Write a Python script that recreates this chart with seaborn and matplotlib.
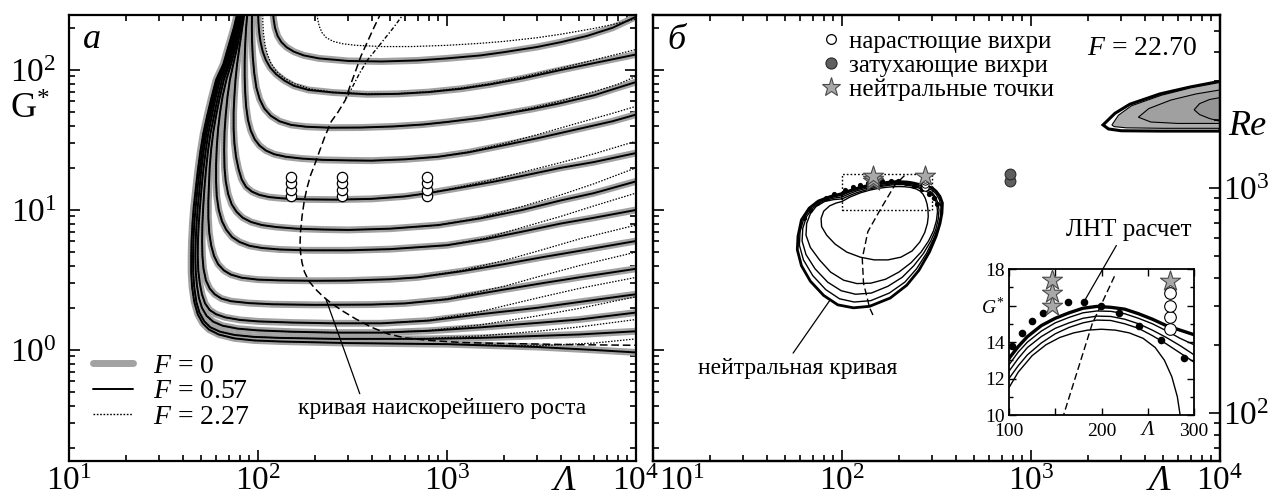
import itertools
import numpy as np
import pandas as pd
import matplotlib
matplotlib.use("Agg")
import matplotlib.pyplot as plt
from matplotlib.lines import Line2D
from matplotlib.ticker import (LogLocator, LogFormatterMathtext, NullFormatter,
                               FixedLocator, FixedFormatter, MultipleLocator, FuncFormatter)
import seaborn as sns

# ======================= DATA =======================
# Panel а : contours G*(Λ); F = 0.57 (black) – the F = 0 curves (grey) coincide with them
C1 = [(120, 260), (121, 230), (123, 200), (127, 175), (133, 158), (142, 145), (155, 135), (175, 127), (210, 121),
      (300, 116), (450, 115), (700, 117), (1000, 121), (1500, 127), (2000, 134), (3000, 146), (4000, 158),
      (5500, 175), (7500, 200), (10000, 240)]
C2 = [(100, 260), (100.5, 220), (101.5, 185), (103, 160), (106, 135), (110, 118), (116, 104), (125, 93), (138, 84),
      (155, 77), (185, 72), (250, 69), (380, 67), (550, 67.5), (800, 69.5), (1200, 73.5), (1700, 79), (2500, 87),
      (4000, 100), (6000, 112), (10000, 129)]
C3 = [(93, 260), (92.8, 200), (93, 160), (93.8, 125), (95.5, 95), (98, 75), (102, 62), (108, 53), (117, 47),
      (130, 43), (150, 40.5), (180, 39.3), (240, 38.7), (350, 38.8), (520, 39.5), (750, 40.8), (1000, 42.5),
      (1500, 45.5), (2000, 48.5), (2800, 52.5), (4000, 58), (6000, 66), (10000, 82)]
C4 = [(88, 260), (86.5, 200), (85.5, 150), (85, 115), (85, 90), (85.5, 70), (86.5, 55), (88.5, 44), (91.5, 37),
      (96, 32), (102, 28.8), (110, 26.6), (122, 25), (140, 24), (170, 23.3), (220, 22.8), (300, 22.6), (400, 22.5),
      (600, 23), (900, 24), (1300, 25.8), (2000, 29), (3000, 32.5), (5000, 38), (7500, 43), (10000, 48)]
C5 = [(85, 260), (82.5, 200), (80, 150), (77.5, 110), (76, 85), (75, 65), (74.3, 50), (74.3, 38), (75, 30),
      (76.5, 24), (79, 19.5), (82, 16.5), (86.5, 14.6), (93, 13.5), (102, 12.8), (115, 12.35), (135, 12.1),
      (180, 11.9), (260, 11.85), (400, 12), (600, 12.5), (800, 13.2), (1200, 14.5), (1800, 16), (2500, 17.5),
      (4000, 20), (6000, 22), (10000, 25.5)]
C6 = [(84, 260), (81, 200), (78, 150), (74, 110), (71, 85), (69, 65), (67.5, 48), (66.5, 36), (66.2, 27),
      (66.5, 20), (67.5, 16), (69.5, 13), (72.5, 11), (77, 9.7), (83, 8.8), (92, 8.2), (105, 7.8), (125, 7.55),
      (160, 7.35), (220, 7.25), (300, 7.2), (500, 7.35), (900, 7.8), (1500, 8.7), (2500, 10), (4000, 11.7),
      (6000, 13.2), (10000, 16)]
C7 = [(83, 260), (79.5, 200), (76.5, 150), (72, 110), (68, 85), (65, 65), (63, 50), (61.5, 38), (60.5, 28),
      (60, 21), (60, 16), (60.5, 12.5), (62, 10), (64.5, 8.3), (68, 7.2), (73, 6.4), (80, 5.9), (90, 5.55),
      (105, 5.35), (130, 5.22), (180, 5.15), (300, 5.15), (500, 5.25), (1000, 5.6), (1600, 6.2), (2500, 7.0),
      (4000, 8.0), (6000, 8.8), (10000, 10)]
C8 = [(82, 260), (78.5, 200), (75, 150), (70.5, 110), (66, 85), (62.5, 62), (60, 47), (58, 36), (56.5, 27),
      (55.5, 20), (55, 15), (54.6, 11.5), (54.6, 8.8), (55.2, 6.9), (56.5, 5.6), (58.5, 4.7), (61.5, 4.1),
      (66, 3.7), (72, 3.45), (82, 3.28), (100, 3.18), (130, 3.14), (200, 3.12), (300, 3.13), (500, 3.2),
      (700, 3.3), (1200, 3.65), (2000, 4.1), (3200, 4.6), (5000, 5.1), (10000, 6.0)]
C9 = [(81, 260), (77.5, 200), (74, 150), (69.5, 110), (64.5, 85), (61, 62), (58.5, 47), (56, 35), (54.3, 26),
      (53, 19), (52, 14), (51.3, 10.5), (50.8, 8), (50.6, 6), (50.8, 4.7), (51.5, 3.8), (53, 3.15), (55.5, 2.75),
      (59, 2.5), (64, 2.33), (72, 2.23), (90, 2.16), (120, 2.12), (200, 2.1), (400, 2.11), (600, 2.15),
      (1000, 2.3), (2000, 2.7), (3200, 3.0), (5000, 3.3), (10000, 3.8)]
C10 = [(80.5, 260), (77, 200), (73, 150), (68.5, 110), (63, 85), (59.5, 62), (57, 47), (54.5, 35), (52.8, 26),
       (51.3, 19), (50.2, 14), (49.3, 10.5), (48.6, 8), (48.1, 6), (48, 4.7), (48.3, 3.7), (49.2, 3.0),
       (50.5, 2.5), (52.5, 2.15), (55.5, 1.93), (60, 1.8), (67, 1.71), (80, 1.64), (100, 1.6), (150, 1.57),
       (250, 1.55), (450, 1.55), (800, 1.62), (1500, 1.8), (3000, 2.0), (5000, 2.2), (10000, 2.5)]
C11 = [(80, 260), (76.5, 200), (72, 150), (67.5, 110), (62, 85), (58.5, 62), (55.8, 47), (53.3, 35), (51.5, 26),
       (50, 19), (49, 14), (48, 10.5), (47.3, 8), (46.8, 6), (46.6, 4.7), (46.8, 3.7), (47.5, 2.9), (48.7, 2.35),
       (50.5, 2.0), (53.5, 1.75), (58, 1.59), (65, 1.49), (78, 1.42), (100, 1.38), (150, 1.35), (250, 1.33),
       (450, 1.33), (800, 1.37), (1500, 1.45), (3000, 1.56), (5000, 1.65), (10000, 1.85)]
C12 = [(79, 260), (75.5, 200), (71, 150), (66.5, 110), (61, 85), (57.5, 62), (54.8, 47), (52.3, 35), (50.5, 26),
       (49, 19), (47.8, 14), (46.8, 10.5), (46, 8), (45.5, 6), (45.3, 4.7), (45.4, 3.6), (46, 2.8), (47.2, 2.2),
       (49, 1.85), (52, 1.6), (56, 1.45), (63, 1.35), (75, 1.28), (95, 1.24), (130, 1.22), (250, 1.2),
       (400, 1.2), (800, 1.2), (1500, 1.22), (3000, 1.26), (5000, 1.29), (10000, 1.36)]
C13 = [(78, 260), (74.5, 200), (70, 150), (65.5, 110), (60, 85), (56.5, 62), (53.8, 47), (51.3, 35), (49.5, 26),
       (48, 19), (46.8, 14), (45.7, 10.5), (45, 8), (44.5, 6), (44.3, 4.7), (44.3, 3.6), (44.8, 2.8), (46, 2.2),
       (48, 1.8), (51, 1.55), (55, 1.4), (62, 1.29), (75, 1.21), (95, 1.17), (130, 1.15), (300, 1.12),
       (1000, 1.1), (3000, 1.05), (6000, 1.0), (10000, 0.96)]

# F = 2.27 (dotted): two upper curves differ entirely, the others only in their right tails
D1 = [(205, 260), (207, 230), (211, 205), (218, 185), (230, 170), (250, 160), (280, 154), (330, 150), (450, 147),
      (650, 147), (1000, 150), (1500, 155), (2000, 160), (3000, 170), (4000, 180), (6000, 198), (8000, 215),
      (10000, 232)]
D2 = [(106, 260), (106, 220), (107, 180), (109, 150), (112, 130), (117, 112), (125, 98), (137, 88), (155, 80),
      (190, 73), (250, 69.5), (380, 67.5), (550, 67.8), (800, 70), (1200, 74.5), (1700, 80), (2500, 89),
      (4000, 103), (6000, 118), (10000, 140)]
T3 = [(2000, 48.8), (2800, 53.5), (4000, 60), (6000, 70), (8000, 79), (10000, 90)]
T4 = [(1300, 26), (2000, 29.8), (3000, 34.5), (5000, 42), (7500, 49), (10000, 55)]
T5 = [(1200, 14.7), (1800, 16.6), (2500, 18.6), (4000, 21.8), (6000, 25.2), (10000, 31)]
T6 = [(1500, 8.8), (2500, 10.6), (4000, 12.8), (6000, 15.4), (10000, 20)]
T7 = [(1600, 6.3), (2500, 7.5), (4000, 9.0), (6000, 10.7), (10000, 13.2)]
T8 = [(1200, 3.7), (2000, 4.35), (3200, 5.2), (5000, 6.2), (10000, 7.8)]
T9 = [(1000, 2.32), (2000, 2.85), (3200, 3.4), (5000, 4.0), (10000, 5.0)]
T10 = [(800, 1.63), (1500, 1.88), (3000, 2.35), (5000, 2.75), (10000, 3.3)]
T11 = [(800, 1.38), (1500, 1.51), (3000, 1.75), (5000, 1.98), (10000, 2.4)]
T12 = [(800, 1.21), (1500, 1.26), (3000, 1.36), (5000, 1.46), (10000, 1.65)]
T13 = [(3000, 1.07), (6000, 1.12), (10000, 1.2)]

# fastest-growth curve (panel а)
GROWTH_A = [(450, 260), (410, 200), (380, 160), (350, 125), (330, 100), (305, 75), (290, 61), (265, 50),
            (244, 42.8), (225, 33), (210, 25.6), (198, 20.5), (190, 17.8), (182, 14.5), (176, 11.8), (171, 9),
            (168, 7.06), (167, 5.9), (168, 4.93), (171, 4.2), (176, 3.62), (186, 3.1), (200, 2.75), (220, 2.42),
            (244, 2.16), (280, 1.9), (328, 1.67), (400, 1.45), (489, 1.3), (600, 1.22), (804, 1.17),
            (1200, 1.13), (2170, 1.11), (5000, 1.09), (10000, 1.08)]
GROWTH_A_F227 = [(600, 260), (520, 200), (430, 145), (380, 118), (345, 95), (315, 75), (290, 61)]

# experimental points in panel а
CIRC_A_LAM = [150, 278, 780]
CIRC_A_G = [12.5, 14.0, 15.6, 17.3]

# Panel б : neutral curves (F = 22.70)
O1 = [(100, 13.1), (110, 13.75), (120, 14.3), (135, 14.9), (150, 15.3), (165, 15.6), (180, 15.85), (195, 15.95),
      (210, 15.9), (225, 15.8), (240, 15.55), (255, 15.25), (270, 14.9), (285, 14.65), (300, 14.4), (315, 13.6),
      (330, 12.5), (340, 11.2), (338, 9.5), (330, 8.0), (315, 6.5), (290, 5.0), (255, 3.7), (220, 2.9),
      (180, 2.35), (140, 2.05), (115, 2.0), (95, 2.1), (80, 2.45), (68, 3.1), (61, 4.0), (58, 5.2),
      (58.5, 6.5), (61, 8.5), (67, 10.3), (75, 11.6), (87, 12.5), (100, 13.1)]
O2 = [(100, 12.75), (110, 13.45), (120, 14.0), (135, 14.6), (150, 15.05), (165, 15.35), (180, 15.6), (195, 15.7),
      (210, 15.68), (225, 15.55), (240, 15.3), (255, 15.0), (270, 14.62), (285, 14.2), (300, 13.85), (315, 13.0),
      (328, 11.8), (334, 10.5), (332, 9.0), (322, 7.5), (305, 6.2), (280, 4.9), (248, 3.8), (215, 3.05),
      (178, 2.55), (142, 2.25), (116, 2.2), (97, 2.32), (82, 2.7), (70, 3.4), (62.5, 4.4), (59.5, 5.6),
      (60, 7.0), (63, 8.8), (68.5, 10.4), (77, 11.6), (88, 12.3), (100, 12.75)]
O3 = [(100, 12.4), (110, 13.1), (120, 13.7), (135, 14.3), (150, 14.75), (165, 15.05), (180, 15.3), (195, 15.42),
      (210, 15.4), (225, 15.25), (240, 15.0), (255, 14.65), (270, 14.25), (285, 13.8), (300, 13.3), (312, 12.4),
      (322, 11.2), (326, 10.0), (323, 8.6), (313, 7.2), (295, 6.0), (270, 4.9), (240, 4.0), (208, 3.3),
      (175, 2.85), (143, 2.55), (118, 2.5), (99, 2.65), (84, 3.05), (72, 3.8), (64.5, 4.8), (61.5, 6.0),
      (62, 7.4), (65, 9.0), (70.5, 10.4), (78.5, 11.5), (89, 12.1), (100, 12.4)]
O4 = [(100, 12.0), (110, 12.7), (120, 13.3), (135, 13.95), (150, 14.45), (165, 14.8), (180, 15.05), (195, 15.2),
      (210, 15.18), (225, 15.0), (240, 14.75), (255, 14.35), (270, 13.9), (285, 13.4), (300, 12.9), (310, 12.1),
      (318, 10.9), (320, 9.7), (316, 8.4), (305, 7.1), (287, 6.0), (262, 5.0), (232, 4.2), (200, 3.6),
      (170, 3.2), (142, 3.0), (120, 2.98), (102, 3.15), (87, 3.6), (76, 4.4), (68, 5.4), (64.5, 6.6),
      (65, 8.0), (68, 9.4), (73, 10.6), (81, 11.5), (90, 11.85), (100, 12.0)]
O5 = [(100, 11.5), (110, 12.35), (125, 13.25), (140, 13.85), (155, 14.25), (170, 14.5), (185, 14.65), (200, 14.7),
      (215, 14.65), (230, 14.5), (245, 14.2), (258, 13.7), (268, 13.0), (276, 12.1), (282, 11.0), (285, 10.0),
      (286, 9.0), (283, 8.0), (274, 6.9), (258, 5.9), (235, 5.1), (205, 4.6), (175, 4.4), (148, 4.4),
      (125, 4.6), (106, 5.0), (92, 5.7), (83, 6.6), (78, 7.6), (77.5, 8.7), (80, 9.8), (86, 10.7), (93, 11.2), (100, 11.5)]

GROWTH_B = [(214, 17.6), (190, 15.0), (159, 10.0), (137, 7.0), (128, 4.5), (130, 3.0), (140, 2.0), (148, 1.7)]

LNT_LAM = [63, 68, 74, 82, 91, 103.6, 114, 125, 137, 163.5, 181, 199, 219, 240.5, 264, 289, 305, 320]
LNT_G = [8.8, 10.0, 11.2, 12.2, 13.0, 13.8, 14.5, 15.15, 15.6, 16.2, 16.2, 16.0, 15.6, 14.9, 14.1, 13.1, 12.2, 11.0]

STAR_LAM = [146, 146, 146, 274]
STAR_G = [16.0, 16.7, 17.4, 17.35]
GROW_LAM = [274, 274, 274, 274]
GROW_G = [14.7, 15.35, 16.0, 16.7]
DECAY_LAM = [775, 775]
DECAY_G = [16.2, 18.0]

# grey high-Λ region (upper right of panel б)
REGION_OUTER = [(2405, 40.5), (2780, 49), (3340, 57), (4820, 67.5), (6930, 75.5), (10000, 83),
                (10000, 36.6), (4820, 36.6), (3000, 36.8), (2570, 37.9), (2405, 40.5)]
REGION_MID = [(2680, 40.5), (2900, 47.5), (3400, 55.5), (4900, 66), (7000, 74.5), (10000, 81.5),
              (10000, 38.3), (5000, 38.3), (3200, 38.6), (2750, 39.4), (2680, 40.5)]
REGION_INNER = [(3700, 46), (4200, 53), (5500, 61), (7500, 67.5), (10000, 72),
                (10000, 41.5), (6000, 41.5), (4300, 42.5), (3700, 46)]
REGION_CORE = [(7300, 52), (7800, 57.5), (8800, 61.5), (10000, 63.5),
               (10000, 43), (8800, 45), (7800, 48), (7300, 52)]

INSET_LAM = [100, 300]
INSET_G = [10, 18]

XLIM = (10, 1e4)
GLIM = (0.161, 247)
RELIM = (61.2, 5870)

# ======================= STYLE =======================
sns.set_style("ticks")
plt.rcParams.update({
    "font.family": ["Liberation Serif", "DejaVu Serif"],
    "mathtext.fontset": "custom",
    "mathtext.rm": "Liberation Serif",
    "mathtext.it": "Liberation Serif:italic",
    "mathtext.bf": "Liberation Serif:bold",
    "axes.linewidth": 1.6,
    "axes.edgecolor": "black",
    "xtick.color": "black",
    "ytick.color": "black",
    "text.color": "black",
})

W, H = 1273, 498
fig = plt.figure(figsize=(W / 100, H / 100), dpi=100)


def px_axes(x0, y0, x1, y1):
    return fig.add_axes([x0 / W, 1 - y1 / H, (x1 - x0) / W, (y1 - y0) / H])


def frame(curves):
    rows = []
    for cid, pts in enumerate(curves):
        for order, (lam, g) in enumerate(pts):
            rows.append((cid, order, lam, g))
    return pd.DataFrame(rows, columns=["curve", "order", "lam", "g"])


def draw_lines(ax, curves, **kw):
    sns.lineplot(data=frame(curves), x="lam", y="g", units="curve", estimator=None,
                 sort=False, ax=ax, legend=False, **kw)


ax1 = px_axes(69, 15, 636, 461)
ax2 = px_axes(653, 15, 1220, 461)
axr = ax2.twinx()
axin = px_axes(1009, 269, 1194, 415)

for ax in (ax1, ax2):
    ax.set_xscale("log")
    ax.set_yscale("log")
    ax.set_xlim(*XLIM)
    ax.set_ylim(*GLIM)

# ---------------- panel а ----------------
solid = [C1, C2, C3, C4, C5, C6, C7, C8, C9, C10, C11, C12, C13]
tails = [T3, T4, T5, T6, T7, T8, T9, T10, T11, T12, T13]
dotted = [D1, D2] + [[p for p in c if p[0] < t[0][0]] + t for c, t in zip(solid[2:], tails)]

draw_lines(ax1, solid, color="#a2a2a2", linewidth=5.0, solid_capstyle="butt", solid_joinstyle="round", zorder=2)
draw_lines(ax1, solid, color="black", linewidth=1.4, solid_joinstyle="round", zorder=3)
draw_lines(ax1, dotted, color="black", linewidth=0.9, linestyle=(0, (1.2, 1.2)), zorder=4)
draw_lines(ax1, [GROWTH_A], color="black", linewidth=1.1, linestyle=(0, (5, 2.5)), zorder=4)
draw_lines(ax1, [GROWTH_A_F227], color="black", linewidth=1.0, linestyle=(0, (3, 1.5, 1, 1.5)), zorder=4)

circ = list(itertools.product(CIRC_A_LAM, CIRC_A_G))
sns.scatterplot(x=[c[0] for c in circ], y=[c[1] for c in circ], ax=ax1, marker="o", s=55,
                color="white", edgecolor="black", linewidth=0.9, zorder=6, legend=False)

ax1.annotate("кривая наискорейшего роста", xy=(229, 2.3), xycoords="data",
             xytext=(0.658, 0.117), textcoords="axes fraction", fontsize=17,
             ha="center", va="center",
             arrowprops=dict(arrowstyle="-", lw=0.9, color="black", relpos=(0.22, 1.0),
                             shrinkA=1, shrinkB=0))

leg_handles = [Line2D([], [], color="#a2a2a2", lw=5),
               Line2D([], [], color="black", lw=1.4),
               Line2D([], [], color="black", lw=1.0, ls=(0, (1.2, 1.2)))]
ax1.legend(leg_handles, [r"$F$ = 0", r"$F$ = 0.57", r"$F$ = 2.27"], loc="lower left",
           bbox_to_anchor=(0.042, 0.07), frameon=False, fontsize=20, handlelength=1.45,
           handletextpad=0.7, labelspacing=0.0, borderpad=0, borderaxespad=0)

ax1.text(0.04, 0.945, "а", style="italic", fontsize=26, transform=ax1.transAxes, ha="center", va="center")
ax1.text(0.875, -0.047, "Λ", style="italic", fontsize=26, transform=ax1.transAxes, ha="center", va="center")

# ---------------- panel б ----------------
ax2.fill(*zip(*REGION_OUTER), facecolor="white", edgecolor="black", linewidth=2.2, zorder=2)
ax2.fill(*zip(*REGION_MID), facecolor="#acacac", edgecolor="black", linewidth=0.8, zorder=2)
ax2.fill(*zip(*REGION_INNER), facecolor="#a0a0a0", edgecolor="black", linewidth=0.8, zorder=2)
ax2.fill(*zip(*REGION_CORE), facecolor="#949494", edgecolor="black", linewidth=0.8, zorder=2)

draw_lines(ax2, [O2, O3, O4, O5], color="black", linewidth=1.0, zorder=3)
draw_lines(ax2, [O1], color="black", linewidth=2.0, zorder=3)
draw_lines(ax2, [GROWTH_B], color="black", linewidth=1.0, linestyle=(0, (5, 2.5)), zorder=4)
rect = [(INSET_LAM[0], INSET_G[0]), (INSET_LAM[1], INSET_G[0]), (INSET_LAM[1], INSET_G[1]),
        (INSET_LAM[0], INSET_G[1]), (INSET_LAM[0], INSET_G[0])]
draw_lines(ax2, [rect], color="black", linewidth=1.0, linestyle=(0, (1.2, 1.5)), zorder=4)

sns.scatterplot(x=LNT_LAM, y=LNT_G, ax=ax2, marker="o", s=14, color="black", edgecolor="black",
                linewidth=0, zorder=5, legend=False)
sns.scatterplot(x=GROW_LAM, y=GROW_G, ax=ax2, marker="o", s=28, color="white", edgecolor="black",
                linewidth=0.7, zorder=6, legend=False)
sns.scatterplot(x=STAR_LAM, y=STAR_G, ax=ax2, marker="*", s=230, color="#a8a8a8", edgecolor="#4a4a4a",
                linewidth=0.8, zorder=7, legend=False)
sns.scatterplot(x=DECAY_LAM, y=DECAY_G, ax=ax2, marker="o", s=60, color="#5f5f5f", edgecolor="#2a2a2a",
                linewidth=0.8, zorder=6, legend=False)

ax2.annotate("нейтральная кривая", xy=(86, 2.25), xycoords="data", xytext=(58.5, 0.743),
             textcoords="data", fontsize=17, ha="center", va="center",
             arrowprops=dict(arrowstyle="-", lw=0.9, color="black", relpos=(0.46, 1.0), shrinkA=1, shrinkB=0))

leg2 = [Line2D([], [], ls="", marker="o", mfc="white", mec="black", ms=7, mew=0.9),
        Line2D([], [], ls="", marker="o", mfc="#5f5f5f", mec="#2a2a2a", ms=8, mew=0.8),
        Line2D([], [], ls="", marker="*", mfc="#a8a8a8", mec="#4a4a4a", ms=14, mew=0.8)]
ax2.legend(leg2, ["нарастющие вихри", "затухающие вихри", "нейтральные точки"], loc="upper left",
           bbox_to_anchor=(0.30, 0.965), frameon=False, fontsize=18, handlelength=0.6,
           handletextpad=0.45, labelspacing=0.05, borderpad=0, borderaxespad=0)

ax2.text(0.765, 0.926, r"$F$ = 22.70", transform=ax2.transAxes, fontsize=20, ha="left", va="center")
ax2.text(0.042, 0.942, "б", style="italic", fontsize=26, transform=ax2.transAxes, ha="center", va="center")
ax2.text(0.894, -0.047, "Λ", style="italic", fontsize=26, transform=ax2.transAxes, ha="center", va="center")

# ---------------- axes, ticks ----------------
for ax in (ax1, ax2):
    ax.set_xlabel("")
    ax.set_ylabel("")
    ax.xaxis.set_major_locator(LogLocator(base=10, numticks=10))
    ax.xaxis.set_minor_locator(LogLocator(base=10, subs=np.arange(2, 10), numticks=20))
    ax.yaxis.set_major_locator(LogLocator(base=10, numticks=10))
    ax.yaxis.set_minor_locator(LogLocator(base=10, subs=np.arange(2, 10), numticks=20))
    ax.xaxis.set_minor_formatter(NullFormatter())
    ax.yaxis.set_minor_formatter(NullFormatter())
    ax.tick_params(which="both", direction="in", top=True, labelsize=24, width=1.2)
    ax.tick_params(which="major", length=8)
    ax.tick_params(which="minor", length=4.5)
    ax.tick_params(axis="x", pad=4)
    ax.tick_params(axis="y", pad=9)

ax1.xaxis.set_major_formatter(LogFormatterMathtext())
ax1.yaxis.set_major_formatter(LogFormatterMathtext())
ax1.tick_params(which="both", right=True)

ax2.xaxis.set_major_formatter(FuncFormatter(lambda v, p: "" if v < 50 else LogFormatterMathtext()(v, p)))
ax2.tick_params(which="both", right=False, labelleft=False)
ax2.annotate(r"$\mathdefault{10^{1}}$", xy=(10, 0), xycoords=("data", "axes fraction"),
             xytext=(21, -4), textcoords="offset points", fontsize=24, ha="center", va="top")

axr.set_yscale("log")
axr.set_ylim(*RELIM)
axr.yaxis.set_major_locator(LogLocator(base=10, numticks=10))
axr.yaxis.set_minor_locator(LogLocator(base=10, subs=np.arange(2, 10), numticks=20))
axr.yaxis.set_major_formatter(LogFormatterMathtext())
axr.yaxis.set_minor_formatter(NullFormatter())
axr.tick_params(which="both", direction="in", right=True, left=False, labelright=True,
                labelsize=24, width=1.2, pad=2)
axr.tick_params(which="major", length=8)
axr.tick_params(which="minor", length=4.5)
for s in axr.spines.values():
    s.set_linewidth(1.6)

# ---------------- inset ----------------
axin.set_facecolor("white")
draw_lines(axin, [O2, O3, O4, O5], color="black", linewidth=1.0, zorder=3)
draw_lines(axin, [O1], color="black", linewidth=2.4, zorder=3)
draw_lines(axin, [GROWTH_B], color="black", linewidth=1.0, linestyle=(0, (5, 2.5)), zorder=4)
sns.scatterplot(x=LNT_LAM, y=LNT_G, ax=axin, marker="o", s=30, color="black", edgecolor="black",
                linewidth=0, zorder=5, legend=False)
sns.scatterplot(x=GROW_LAM, y=GROW_G, ax=axin, marker="o", s=70, color="white", edgecolor="black",
                linewidth=0.8, zorder=6, legend=False)
sns.scatterplot(x=STAR_LAM, y=STAR_G, ax=axin, marker="*", s=230, color="#a8a8a8", edgecolor="#4a4a4a",
                linewidth=0.8, zorder=7, legend=False)
axin.set_xlim(*INSET_LAM)
axin.set_ylim(*INSET_G)
axin.set_xlabel("")
axin.set_ylabel("")
axin.xaxis.set_major_locator(FixedLocator([100, 150, 200, 250, 300]))
axin.xaxis.set_major_formatter(FixedFormatter(["100", "", "200", "", "300"]))
axin.yaxis.set_major_locator(FixedLocator([10, 12, 14, 16, 18]))
axin.yaxis.set_major_formatter(FixedFormatter(["10", "12", "14", r"$G^{*}$", "18"]))
axin.yaxis.set_minor_locator(MultipleLocator(1))
axin.tick_params(which="both", direction="in", top=True, right=True, labelsize=14, width=1.0)
axin.tick_params(axis="x", pad=6)
axin.tick_params(axis="y", pad=3)
axin.tick_params(which="major", length=5)
axin.tick_params(which="minor", length=3)
for s in axin.spines.values():
    s.set_linewidth(1.3)
axin.text(250, -0.04, "Λ", style="italic", fontsize=15,
          transform=axin.get_xaxis_transform(), ha="center", va="top")
axin.annotate("ЛНТ расчет", xy=(181, 16.2), xycoords="data",
              xytext=(1129 / W, 1 - 230 / H), textcoords="figure fraction", fontsize=18,
              ha="center", va="center", annotation_clip=False,
              arrowprops=dict(arrowstyle="-", lw=0.9, color="black", relpos=(0.42, 0.0), shrinkA=1, shrinkB=2))

# ---------------- figure-level labels ----------------
fig.text(30 / W, 1 - 110 / H, r"$\mathrm{G}^{*}$", fontsize=26, ha="center", va="center")
fig.text(1247 / W, 1 - 126 / H, "Re", style="italic", fontsize=26, ha="center", va="center")

fig.savefig("out.png", dpi=100, facecolor="white")
